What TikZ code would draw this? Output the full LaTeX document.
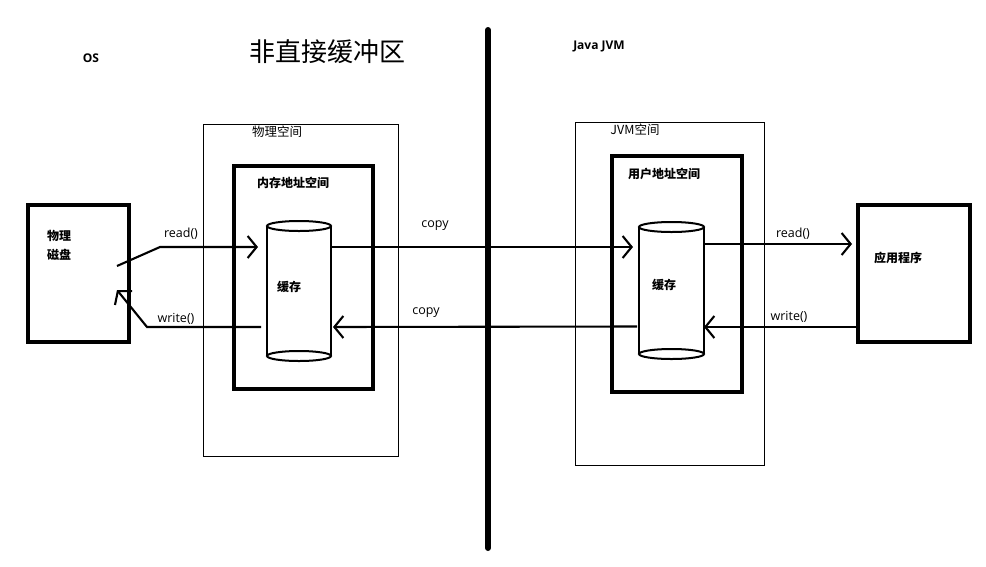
\documentclass[tikz,border=0pt]{standalone}
\usepackage{fontspec}
\setmainfont{Open Sans}
\newfontfamily\cjk{Noto Sans CJK SC}
\usetikzlibrary{arrows.meta,calc}
\begin{document}
\begin{tikzpicture}[x=1pt,y=-1pt,
  thickbox/.style={draw,line width=4.5pt,inner sep=0pt,outer sep=0pt,anchor=north west},
  thinbox/.style={draw,line width=0.9pt,inner sep=0pt,outer sep=0pt,anchor=north west},
  cylbody/.style={inner sep=0pt,outer sep=0pt,anchor=north west},
  conn/.style={line width=2.1pt},
  tip/.style={-{Straight Barb[length=9pt,width=22pt,line width=2.1pt]}},
  lbl/.style={font=\fontsize{12.5}{14}\selectfont,inner sep=0pt},
  cjklbl/.style={font=\cjk\fontsize{12.5}{14}\selectfont,inner sep=0pt},
  cjkbold/.style={font=\cjk\bfseries\fontsize{12}{14}\selectfont,inner sep=0pt},
  cyl/.style={line width=2pt}
]
\useasboundingbox[fill=white] (0,0) rectangle (986,566);

% titles
\node[font=\bfseries\fontsize{12}{14}\selectfont,inner sep=0pt] (os) at (91,58) {OS};
\node[font=\cjk\fontsize{26}{30}\selectfont,inner sep=0pt] (title) at (327,52) {非直接缓冲区};
\node[font=\bfseries\fontsize{12}{14}\selectfont,inner sep=0pt] (jvm) at (599,46) {Java JVM};

% divider
\coordinate (divtop) at (488,30);
\coordinate (divbot) at (488,548);
\draw[line width=6pt,line cap=round] (divtop) -- (divbot);

% boxes
\node[thickbox,minimum width=101pt,minimum height=137pt] (disk) at (28,205) {};
\node[cjkbold,align=left,anchor=north west,font=\cjk\bfseries\fontsize{12}{19}\selectfont] (disklbl) at (47,230) {物理\\磁盘};

\node[thinbox,minimum width=195pt,minimum height=332pt] (phys) at (203,124) {};
\node[cjklbl] (physlbl) at (277,132) {物理空间};
\node[thickbox,minimum width=139pt,minimum height=223pt] (mem) at (234,166) {};
\node[cjkbold] (memlbl) at (293,183) {内存地址空间};

\node[thinbox,minimum width=189pt,minimum height=343pt] (jvms) at (575,122) {};
\node[cjklbl] (jvmslbl) at (635,130) {JVM空间};
\node[thickbox,minimum width=130pt,minimum height=236pt] (usr) at (612,156) {};
\node[cjkbold] (usrlbl) at (664,174) {用户地址空间};

\node[thickbox,minimum width=112pt,minimum height=137pt] (app) at (858,205) {};
\node[cjkbold] (applbl) at (898,258) {应用程序};

% cylinders
\node[cylbody,minimum width=64pt,minimum height=130pt] (c1) at (267,226) {};
\draw[cyl] (c1.north west) -- (c1.south west) (c1.north east) -- (c1.south east);
\draw[cyl] (c1.north) ellipse [x radius=32pt,y radius=5pt];
\draw[cyl] (c1.south) ellipse [x radius=32pt,y radius=5pt];
\node[cjkbold] (c1lbl) at (289,287) {缓存};

\node[cylbody,minimum width=65pt,minimum height=127pt] (c2) at (639,227) {};
\draw[cyl] (c2.north west) -- (c2.south west) (c2.north east) -- (c2.south east);
\draw[cyl] (c2.north) ellipse [x radius=32.5pt,y radius=5pt];
\draw[cyl] (c2.south) ellipse [x radius=32.5pt,y radius=5pt];
\node[cjkbold] (c2lbl) at (664,285) {缓存};

% connectors
\coordinate (rdStart) at (117,266);
\coordinate (rdKink) at (160,247);
\coordinate (wrKink) at (147,327);
\coordinate (wrEnd) at (117,290);
\draw[conn,tip,shorten >=9pt] (rdStart) -- (rdKink) -- (c1.west |- rdKink);
\draw[conn,tip] ($(c1.west)+(-6,36)$) -- (wrKink) -- (wrEnd);
\node[lbl] (rdlbl) at (181,234) {read()};
\node[lbl] (wrlbl) at (176,319) {write()};

\draw[conn,tip,shorten >=6pt] (c1.east |- rdKink) -- (c2.west |- rdKink);
\draw[conn,tip,shorten >=2pt] ($(c2.west)+(-2,36)$) -- (c1.east |- wrKink);
\node[lbl] (cp1) at (435,226) {copy};
\node[lbl] (cp2) at (426,313) {copy};

\coordinate (r2y) at (0,244);
\draw[conn,tip,shorten >=6pt] (c2.east |- r2y) -- (app.west |- r2y);
\draw[conn,tip] (app.west |- wrKink) -- (c2.east |- wrKink);
\node[lbl] (rd2) at (793,234) {read()};
\node[lbl] (wr2) at (789,317) {write()};
\end{tikzpicture}
\end{document}
